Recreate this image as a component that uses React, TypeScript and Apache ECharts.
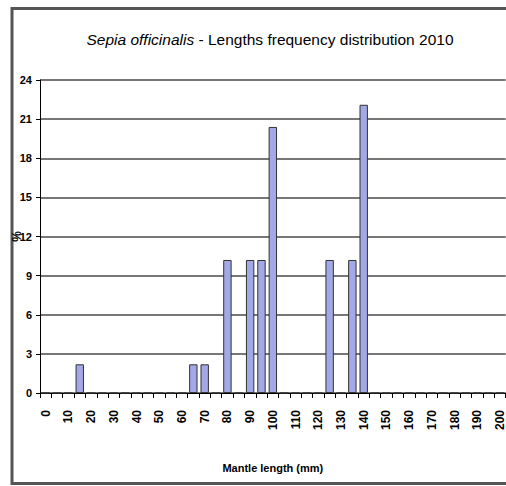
import React, { useEffect, useRef } from "react";
import * as echarts from "echarts";

const lengths = [
  "0", "5", "10", "15", "20", "25", "30", "35", "40", "45",
  "50", "55", "60", "65", "70", "75", "80", "85", "90", "95",
  "100", "105", "110", "115", "120", "125", "130", "135", "140", "145",
  "150", "155", "160", "165", "170", "175", "180", "185", "190", "195",
  "200",
];
const frequency = [
  0, 0, 0, 2.2, 0, 0, 0, 0, 0, 0,
  0, 0, 0, 2.2, 2.2, 0, 10.2, 0, 10.2, 10.2,
  20.4, 0, 0, 0, 0, 10.2, 0, 10.2, 22.1, 0,
  0, 0, 0, 0, 0, 0, 0, 0, 0, 0,
  0,
];
const yTicks = [0, 3, 6, 9, 12, 15, 18, 21, 24];
const titleSpecies = "Sepia officinalis";
const titleRest = " - Lengths frequency distribution 2010";
const xTitle = "Mantle length (mm)";
const yTitle = "%";

const FONT = "'Liberation Sans Narrow', 'Liberation Sans', Arial, sans-serif";

export default function App() {
  const ref = useRef<HTMLDivElement>(null);
  useEffect(() => {
    const chart = echarts.init(ref.current!, undefined, { renderer: "svg" });
    chart.setOption({
      animation: false,
      backgroundColor: "#ffffff",
      title: {
        text: `{i|${titleSpecies}}{n|${titleRest}}`,
        left: 265,
        top: 26,
        textAlign: "center",
        textStyle: {
          fontWeight: "normal",
          rich: {
            i: { fontFamily: FONT, fontSize: 15.5, fontStyle: "italic", fontWeight: "normal", color: "#000" },
            n: { fontFamily: FONT, fontSize: 15.5, fontWeight: "normal", color: "#000" },
          },
        },
      },
      graphic: [
        {
          type: "rect",
          shape: { x: 12, y: 8.5, width: 520, height: 475 },
          style: { fill: "none", stroke: "#555", lineWidth: 3 },
          silent: true,
        },
      ],
      grid: { left: 40, right: 0, top: 80, bottom: 93 },
      xAxis: {
        type: "category",
        data: lengths,
        name: xTitle,
        nameLocation: "middle",
        nameGap: 69,
        nameMoveOverlap: false,
        nameTextStyle: { fontFamily: FONT, fontSize: 11, fontWeight: "bold", color: "#000" },
        axisLine: { lineStyle: { color: "#000", width: 1 } },
        axisTick: { show: true, length: 5, lineStyle: { color: "#000" }, alignWithLabel: false, interval: 0 },
        axisLabel: {
          interval: 1,
          rotate: 90,
          margin: 17,
          fontFamily: FONT,
          fontSize: 12,
          fontWeight: "bold",
          color: "#000",
        },
      },
      yAxis: {
        type: "value",
        min: 0,
        max: 24,
        interval: 3,
        name: yTitle,
        nameLocation: "middle",
        nameRotate: 90,
        nameGap: 17,
        nameMoveOverlap: false,
        nameTextStyle: { fontFamily: FONT, fontSize: 12, fontWeight: "bold", color: "#000" },
        axisLine: { show: true, lineStyle: { color: "#000", width: 1 } },
        axisTick: { show: true, length: 4, lineStyle: { color: "#000" } },
        axisLabel: {
          margin: 8,
          fontFamily: FONT,
          fontSize: 11,
          fontWeight: "bold",
          color: "#000",
          formatter: (v: number) => (yTicks.includes(v) ? String(v) : ""),
        },
        splitLine: { show: true, lineStyle: { color: "#4a4a4a", width: 1.6 } },
      },
      series: [
        {
          type: "bar",
          data: frequency,
          barCategoryGap: "26%",
          itemStyle: { color: "#a3a8e6", borderColor: "#333", borderWidth: 1 },
        },
      ],
    });
    return () => chart.dispose();
  }, []);
  return (
    <div
      ref={ref}
      style={{ position: "absolute", left: 0, top: 0, width: 506, height: 486 }}
    />
  );
}
